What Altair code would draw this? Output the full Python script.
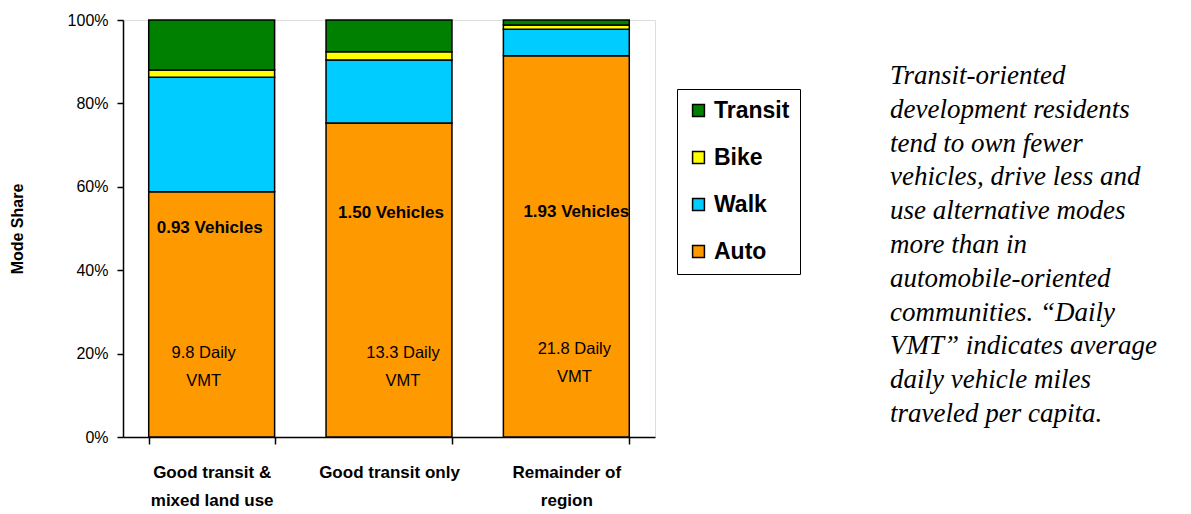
import altair as alt
import pandas as pd

# ---- data ----
categories = ["Good transit & mixed land use", "Good transit only", "Remainder of region"]
axis_label_lines = [["Good transit &", "mixed land use"], ["Good transit only"], ["Remainder of", "region"]]
modes = ["Auto", "Walk", "Bike", "Transit"]
auto = [58.8, 75.3, 91.4]
walk = [27.5, 15.1, 6.4]
bike = [1.7, 2.0, 1.0]
transit = [12.0, 7.6, 1.2]
vehicles = ["0.93 Vehicles", "1.50 Vehicles", "1.93 Vehicles"]
daily_vmt = ["9.8", "13.3", "21.8"]
note_lines = [
    "Transit-oriented",
    "development residents",
    "tend to own fewer",
    "vehicles, drive less and",
    "use alternative modes",
    "more than in",
    "automobile-oriented",
    "communities. \u201cDaily",
    "VMT\u201d indicates average",
    "daily vehicle miles",
    "traveled per capita.",
]

colors = ["#FF9900", "#00CCFF", "#FFFF00", "#008000"]
SANS = "Liberation Sans, Arial"

rows = []
for i, c in enumerate(categories):
    for m, vals in zip(modes, [auto, walk, bike, transit]):
        rows.append({"category": c, "mode": m, "share": vals[i], "order": modes.index(m)})
bars_df = pd.DataFrame(rows)

W, H = 532, 417
PAD_INNER = 0.29
step = W / len(categories)
half_bar = step * (1 - PAD_INNER) / 2

# label anchors (in % of the axis) and small horizontal nudges in px
veh_h = [50.1, 53.7, 54.0]
vmt_h = [20.1, 20.1, 21.1]
veh_dx = [-2, 2, 10]
vmt_dx = [-8, 14, 8]
lab_df = pd.DataFrame({
    "category": categories,
    "veh": vehicles,
    "vmt": [f"{v} Daily\nVMT" for v in daily_vmt],
    "veh_h": veh_h,
    "vmt_h": vmt_h,
    "veh_dx": [half_bar + d for d in veh_dx],
    "vmt_dx": [half_bar + d for d in vmt_dx],
})

label_expr = " : ".join(
    f"datum.label == {c!r} ? {lines!r}" for c, lines in zip(categories, axis_label_lines)
) + " : datum.label"

x_enc = alt.X(
    "category:N",
    sort=categories,
    scale=alt.Scale(paddingInner=PAD_INNER, paddingOuter=PAD_INNER / 2),
    axis=alt.Axis(
        title=None,
        labelAngle=0,
        labelExpr=label_expr,
        labelFont=SANS,
        labelFontSize=17,
        labelFontWeight="bold",
        labelColor="black",
        labelLineHeight=28,
        labelPadding=20,
        labelBaseline="top",
        tickBand="extent",
        tickSize=7,
        tickColor="black",
        tickWidth=1.5,
        domainColor="black",
        domainWidth=1.5,
    ),
)

bars = alt.Chart(bars_df).mark_bar(stroke="black", strokeWidth=1.5).encode(
    x=x_enc,
    y=alt.Y(
        "share:Q",
        stack="zero",
        scale=alt.Scale(domain=[0, 100], nice=False),
        axis=alt.Axis(
            title="Mode Share",
            titleFont=SANS,
            titleFontSize=16,
            titleFontWeight="bold",
            titleColor="black",
            titlePadding=42,
            values=[0, 20, 40, 60, 80, 100],
            labelExpr="datum.value + '%'",
            labelFont=SANS,
            labelFontSize=16,
            labelColor="black",
            labelPadding=9,
            tickSize=6,
            tickColor="black",
            tickWidth=1.5,
            domainColor="black",
            domainWidth=1.5,
            grid=False,
        ),
    ),
    color=alt.Color(
        "mode:N",
        sort=modes,
        scale=alt.Scale(domain=modes, range=colors),
        legend=alt.Legend(
            title=None,
            values=modes[::-1],
            orient="none",
            legendX=554,
            legendY=69,
            symbolType="square",
            symbolSize=140,
            symbolStrokeColor="black",
            symbolStrokeWidth=1.5,
            symbolOpacity=1,
            labelFont=SANS,
            labelFontSize=23,
            labelFontWeight="bold",
            labelColor="black",
            labelOffset=4,
            rowPadding=23,
            padding=10,
            strokeColor="black",
            fillColor="white",
        ),
    ),
    order=alt.Order("order:Q"),
)

veh_text = alt.Chart(lab_df).mark_text(
    font=SANS, fontSize=17, fontWeight="bold", color="black", baseline="middle"
).encode(
    x=alt.X("category:N", sort=categories),
    xOffset=alt.XOffset("veh_dx:Q", scale=None),
    y=alt.Y("veh_h:Q"),
    text="veh:N",
)

vmt_text = alt.Chart(lab_df).mark_text(
    font=SANS, fontSize=16.5, color="black", baseline="middle", lineBreak="\n", lineHeight=28
).encode(
    x=alt.X("category:N", sort=categories),
    xOffset=alt.XOffset("vmt_dx:Q", scale=None),
    y=alt.Y("vmt_h:Q"),
    text="vmt:N",
)

note_df = pd.DataFrame({"note": ["\n".join(note_lines)]})
note = alt.Chart(note_df).mark_text(
    font="Liberation Serif, Times New Roman",
    fontSize=27,
    fontStyle="italic",
    color="black",
    align="left",
    baseline="middle",
    lineBreak="\n",
    lineHeight=33.8,
).encode(
    x=alt.value(767),
    y=alt.value(56),
    text="note:N",
)

chart = alt.layer(bars, veh_text, vmt_text, note).properties(
    width=W,
    height=H,
    autosize=alt.AutoSizeParams(type="none"),
    padding={"left": 115, "top": 12, "right": 525, "bottom": 72},
).configure_view(
    stroke="#999999", strokeWidth=1.5
).configure(background="white")

chart.save("out.html", embed_options={"renderer": "svg", "actions": False})
